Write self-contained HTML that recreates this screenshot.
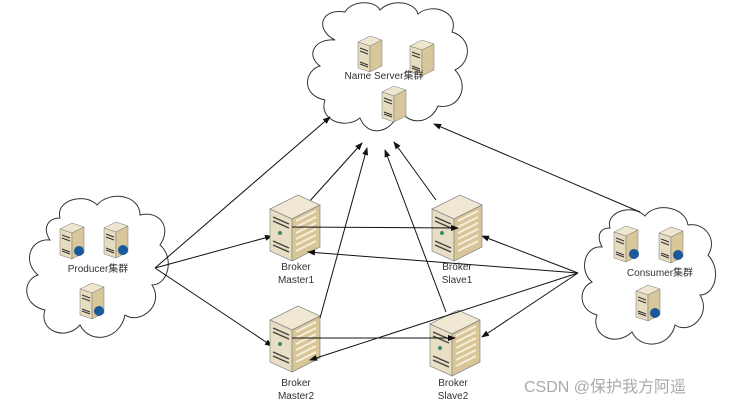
<!DOCTYPE html>
<html><head><meta charset="utf-8"><style>
body{margin:0;background:#fff;width:731px;height:406px;overflow:hidden}
svg{display:block}
text{font-family:"Liberation Sans","Noto Sans CJK SC",sans-serif;fill:#333}
</style></head><body>
<svg width="731" height="406" viewBox="0 0 731 406" xmlns="http://www.w3.org/2000/svg">
<defs>
<marker id="a" markerWidth="8" markerHeight="8" refX="7" refY="4" orient="auto" markerUnits="userSpaceOnUse"><path d="M0,1 L8,4 L0,7 Z" fill="#111"/></marker>
<g id="srv">
<path d="M0,6 L12,0 L24,4 L12,10 Z" fill="#efe6cf" stroke="#777" stroke-width="0.5"/>
<path d="M0,6 L12,10 L12,36 L0,32 Z" fill="#e6dcc0" stroke="#777" stroke-width="0.5"/>
<path d="M12,10 L24,4 L24,30 L12,36 Z" fill="#d9c79c" stroke="#777" stroke-width="0.5"/>
<path d="M2,12 L10,15 M2,15 L10,18 M2,26 L10,29 M2,28 L10,31" stroke="#333" stroke-width="1"/>
</g>
<g id="big">
<path d="M0,14 L28,0 L50,10 L22,24 Z" fill="#f0e8d2" stroke="#888" stroke-width="0.7"/>
<path d="M0,14 L22,24 L22,66 L0,56 Z" fill="#e8dec4" stroke="#888" stroke-width="0.7"/>
<path d="M22,24 L50,10 L50,52 L22,66 Z" fill="#d8c598" stroke="#888" stroke-width="0.7"/>
<path d="M26,26 L46,16 M26,32 L46,22 M26,38 L46,28 M26,44 L46,34 M26,50 L46,40 M26,56 L46,46" stroke="#f6efdc" stroke-width="2"/>
<path d="M3,22 L19,29 M3,26 L19,33 M3,46 L19,53 M3,50 L19,57" stroke="#444" stroke-width="1.5"/>
<circle cx="10" cy="38" r="2" fill="#3a8a6a"/>
</g>
</defs>
<g fill="#fff" stroke="#333" stroke-width="1">
<path d="M335,40 C315,30 320,8 345,12 C352,0 375,0 380,10 C392,-2 415,2 418,14 C432,2 460,12 452,32 C472,38 472,62 455,70 C470,85 460,110 438,106 C430,125 408,125 400,110 C392,134 368,138 360,118 C345,130 318,120 325,100 C300,95 305,70 320,66 C305,55 315,38 335,40 Z"/>
<path d="M60,218 C55,200 85,192 97,205 C110,190 140,195 140,215 C160,210 172,228 160,245 C175,258 168,285 152,285 C165,305 140,325 125,315 C120,340 90,345 80,325 C65,342 38,330 45,310 C22,305 22,280 38,275 C22,262 30,238 50,240 C42,228 48,218 60,218 Z"/>
<path d="M610,228 C605,212 632,203 645,216 C655,202 685,206 688,225 C705,222 718,240 708,255 C722,270 715,295 700,295 C712,315 690,335 675,325 C670,348 640,350 632,332 C615,348 590,335 597,315 C578,310 578,288 592,282 C578,270 585,245 602,247 C596,235 600,228 610,228 Z"/>
</g>
<g stroke="#111" stroke-width="1" fill="none" marker-end="url(#a)">
<line x1="155" y1="268" x2="330" y2="117"/>
<line x1="155" y1="268" x2="272" y2="236"/>
<line x1="155" y1="268" x2="272" y2="346"/>
<line x1="300" y1="212" x2="362" y2="143"/>
<line x1="436" y1="200" x2="394" y2="142"/>
<line x1="640" y1="212" x2="434" y2="124"/>
<line x1="578" y1="273" x2="482" y2="236"/>
<line x1="578" y1="273" x2="482" y2="337"/>
</g>
<use href="#big" x="270" y="195"/>
<use href="#big" x="432" y="195"/>
<use href="#big" x="270" y="306"/>
<use href="#big" x="430" y="310"/>
<g stroke="#111" stroke-width="1" fill="none" marker-end="url(#a)">
<line x1="292" y1="227" x2="458" y2="228"/>
<line x1="292" y1="338" x2="455" y2="338"/>
<line x1="320" y1="318" x2="367" y2="148"/>
<line x1="446" y1="312" x2="385" y2="150"/>
<line x1="578" y1="273" x2="308" y2="252"/>
<line x1="578" y1="273" x2="310" y2="360"/>
</g>
<use href="#srv" x="358" y="36"/>
<use href="#srv" x="410" y="40"/>
<use href="#srv" x="382" y="86"/>
<use href="#srv" x="60" y="223"/>
<use href="#srv" x="104" y="222"/>
<use href="#srv" x="80" y="283"/>
<use href="#srv" x="614" y="226"/>
<use href="#srv" x="659" y="227"/>
<use href="#srv" x="636" y="285"/>
<g fill="#1a5a9a"><circle cx="79" cy="251" r="5"/><circle cx="123" cy="250" r="5"/><circle cx="99" cy="311" r="5"/><circle cx="634" cy="254" r="5"/><circle cx="678" cy="255" r="5"/><circle cx="655" cy="313" r="5"/></g>
<g font-size="10" text-anchor="middle">
<text x="384" y="79">Name Server集群</text>
<text x="98" y="272">Producer集群</text>
<text x="660" y="276">Consumer集群</text>
<text x="296" y="270">Broker</text><text x="296" y="283">Master1</text>
<text x="457" y="270">Broker</text><text x="457" y="283">Slave1</text>
<text x="296" y="386">Broker</text><text x="296" y="399">Master2</text>
<text x="453" y="386">Broker</text><text x="453" y="399">Slave2</text>
</g>
<text x="524" y="392" font-size="16" style="fill:#aaa">CSDN @保护我方阿遥</text>
</svg>
</body></html>
